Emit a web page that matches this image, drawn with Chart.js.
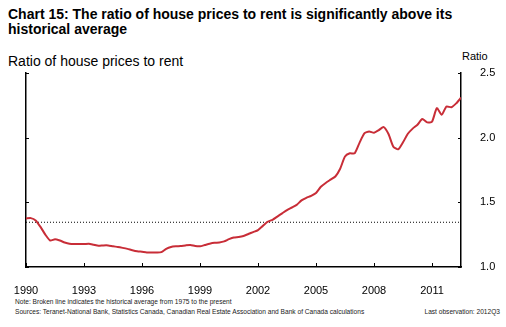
<!DOCTYPE html>
<html lang="en">
<head>
  <meta charset="UTF-8">
  <title>Chart 15: Ratio of house prices to rent</title>
  <script src="https://cdn.jsdelivr.net/npm/chart.js"></script>
  <style>
    html, body {
      margin: 0;
      padding: 0;
      background: #fff;
      font-family: "Liberation Sans", Arial, sans-serif;
      color: #000;
    }
    #wrap {
      position: relative;
      width: 506px;
      height: 327px;
      overflow: hidden;
    }
    #title {
      position: absolute;
      left: 8px;
      top: 7px;
      width: 490px;
      font-weight: bold;
      font-size: 14px;
      line-height: 15px;
    }
    #subtitle {
      position: absolute;
      left: 8px;
      top: 53px;
      font-size: 14px;
    }
    #unit {
      position: absolute;
      left: 462px;
      top: 50px;
      font-size: 11px;
    }
    .note {
      position: absolute;
      font-size: 6.6px;
      color: #222;
      white-space: nowrap;
    }
    canvas { position: absolute; left: 0; top: 0; }
  </style>
</head>
<body>
  <div id="wrap">
    <div id="title">Chart 15: The ratio of house prices to rent is significantly above its historical average</div>
    <div id="subtitle">Ratio of house prices to rent</div>
    <div id="unit">Ratio</div>
    <div class="note" style="left:15px;top:298px;">Note: Broken line indicates the historical average from 1975 to the present</div>
    <div class="note" style="left:15px;top:308px;">Sources: Teranet-National Bank, Statistics Canada, Canadian Real Estate Association and Bank of Canada calculations</div>
    <div class="note" style="right:6px;top:308px;">Last observation: 2012Q3</div>
    <canvas id="lineChart" width="506" height="327"></canvas>
  </div>

  <script>
    // quarterly, 1990Q1 .. 2012Q3
    const startYear = 1990;
    const ratio = [
      1.375, 1.378, 1.36, 1.31,      // 1990
      1.25, 1.205, 1.215, 1.205,     // 1991
      1.19, 1.18, 1.177, 1.177,      // 1992
      1.177, 1.18, 1.172, 1.164,     // 1993
      1.167, 1.167, 1.16, 1.155,     // 1994
      1.148, 1.14, 1.13, 1.122,      // 1995
      1.118, 1.113, 1.113, 1.113,    // 1996
      1.115, 1.14, 1.155, 1.16,      // 1997
      1.162, 1.167, 1.17, 1.162,     // 1998
      1.16, 1.17, 1.18, 1.187,       // 1999
      1.19, 1.198, 1.215, 1.228,     // 2000
      1.232, 1.24, 1.255, 1.27,      // 2001
      1.285, 1.318, 1.35, 1.365,     // 2002
      1.39, 1.415, 1.44, 1.46,       // 2003
      1.48, 1.515, 1.535, 1.55,      // 2004
      1.572, 1.62, 1.65, 1.675,      // 2005
      1.70, 1.76, 1.854, 1.879,      // 2006
      1.879, 1.96, 2.033, 2.048,     // 2007
      2.038, 2.059, 2.082, 2.028,    // 2008
      1.93, 1.91, 1.964, 2.03,       // 2009
      2.07, 2.10, 2.144, 2.118,      // 2010
      2.123, 2.228, 2.177, 2.241,    // 2011
      2.235, 2.265, 2.31             // 2012
    ];
    const historicalAverage = 1.346;
    const xTicks = [1990, 1993, 1996, 1999, 2002, 2005, 2008, 2011];
    const yTicks = [1.0, 1.5, 2.0, 2.5];

    const points = ratio.map((v, i) => ({ x: startYear + i / 4, y: v }));
    const lastX = startYear + (ratio.length - 1) / 4;

    // ticks drawn pointing into the plot, like the original
    const innerTicks = {
      id: 'innerTicks',
      afterDatasetsDraw(chart) {
        const ctx = chart.ctx;
        const a = chart.chartArea;
        const xs = chart.scales.x, ys = chart.scales.y;
        ctx.save();
        ctx.strokeStyle = '#000';
        ctx.lineWidth = 1;
        ctx.beginPath();
        xTicks.forEach(t => {
          const px = Math.round(xs.getPixelForValue(t)) + 0.5;
          ctx.moveTo(px, a.bottom);
          ctx.lineTo(px, a.bottom - 4);
        });
        yTicks.forEach(t => {
          const py = Math.round(ys.getPixelForValue(t)) + 0.5;
          ctx.moveTo(a.left, py);
          ctx.lineTo(a.left + 3, py);
          ctx.moveTo(a.right, py);
          ctx.lineTo(a.right - 3, py);
        });
        ctx.stroke();
        ctx.restore();
      }
    };

    const ctx = document.getElementById('lineChart').getContext('2d');
    new Chart(ctx, {
      type: 'line',
      data: {
        datasets: [
          {
            data: points,
            borderColor: 'rgb(200, 45, 55)',
            borderWidth: 2,
            pointRadius: 0,
            tension: 0.2,
            fill: false
          },
          {
            data: [{ x: startYear, y: historicalAverage }, { x: lastX, y: historicalAverage }],
            borderColor: '#000',
            borderWidth: 1,
            borderDash: [1, 2],
            pointRadius: 0,
            fill: false
          }
        ]
      },
      options: {
        responsive: false,
        animation: false,
        events: [],
        layout: { padding: { left: 26, top: 73, right: 0, bottom: 0 } },
        plugins: { legend: { display: false }, tooltip: { enabled: false } },
        scales: {
          x: {
            type: 'linear',
            min: startYear,
            max: lastX,
            afterFit(s) { s.height = 60; },
            afterBuildTicks(s) { s.ticks = xTicks.map(v => ({ value: v })); },
            grid: { display: false },
            border: { display: true, color: '#000', width: 1.5 },
            ticks: {
              color: '#000',
              font: { family: '"Liberation Sans", Arial, sans-serif', size: 11 },
              padding: 9,
              maxRotation: 0,
              callback: v => String(v)
            }
          },
          y: {
            position: 'right',
            min: 1.0,
            max: 2.5,
            afterFit(s) { s.width = 45; },
            afterBuildTicks(s) { s.ticks = yTicks.map(v => ({ value: v })); },
            grid: { display: false },
            border: { display: true, color: '#000', width: 1.5 },
            ticks: {
              color: '#000',
              font: { family: '"Liberation Sans", Arial, sans-serif', size: 11 },
              padding: 11,
              callback: v => v.toFixed(1)
            }
          },
          yLeft: {
            position: 'left',
            min: 1.0,
            max: 2.5,
            afterFit(s) { s.width = 0; },
            grid: { display: false },
            border: { display: true, color: '#000', width: 1.5 },
            ticks: { display: false }
          }
        }
      },
      plugins: [innerTicks]
    });
  </script>
</body>
</html>
